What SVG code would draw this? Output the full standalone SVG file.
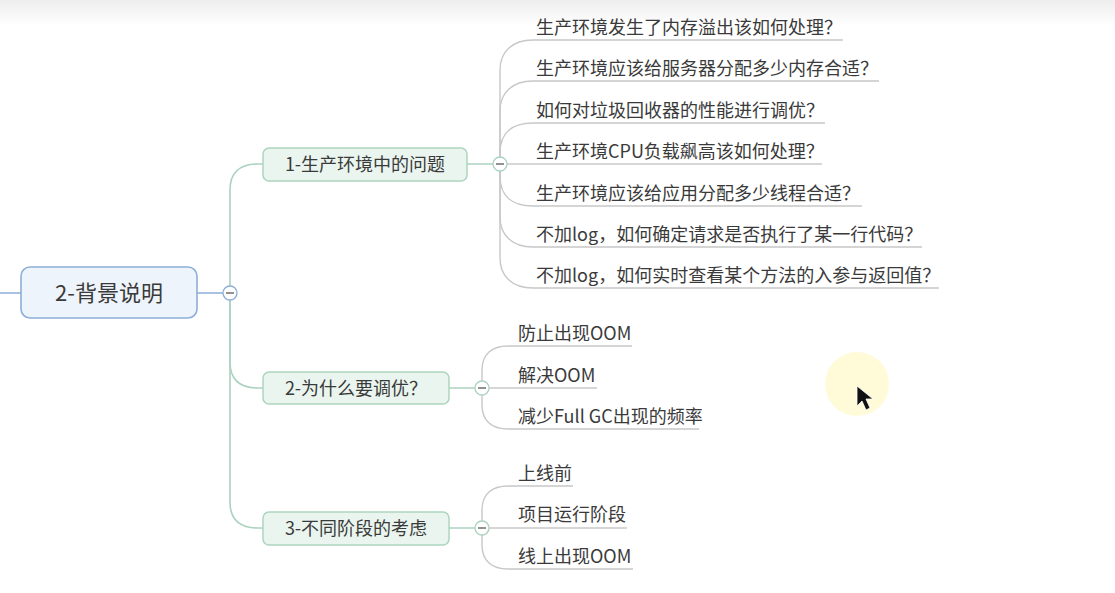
<svg xmlns="http://www.w3.org/2000/svg" width="1115" height="593" viewBox="0 0 1115 593">
<defs>
<linearGradient id="topband" x1="0" y1="0" x2="0" y2="1">
<stop offset="0" stop-color="#eeeeee"/>
<stop offset="1" stop-color="#ffffff"/>
</linearGradient>
</defs>
<style>
text{font-family:"Noto Sans CJK SC","Liberation Sans",sans-serif;fill:#3a3a3a}
.root rect{fill:#eef4fb;stroke:#8eaed8;stroke-width:1.6}
.root text{font-size:22px}
.branch rect{fill:#e9f5ee;stroke:#acd5bf;stroke-width:1.5}
.branch text{font-size:18px}
.leaf text{font-size:18px}
.trunk{fill:none;stroke:#acd2c0;stroke-width:1.6}
.blue{fill:none;stroke:#8eaed8;stroke-width:1.6}
.leafline{fill:none;stroke:#c8c8c8;stroke-width:1.4}
.tog circle{fill:#ffffff;stroke-width:1.3}
.tog line{stroke:#777777;stroke-width:1.6}
</style>
<rect x="0" y="0" width="1115" height="593" fill="#ffffff"/>
<rect x="0" y="0" width="1115" height="26" fill="url(#topband)"/>

<g id="connectors">
<path class="blue" d="M0,293 H21 M197,293 H223"/>
<path class="trunk" d="M230,293 V190 C230,172 240,164 258,164 H263"/>
<path class="trunk" d="M230,293 V362 C230,380 240,388 258,388 H263"/>
<path class="trunk" d="M230,293 V502 C230,520 240,528 258,528 H263"/>
<path class="trunk" d="M467,164 H493 M449,388 H475 M449,528 H475"/>
<path class="leafline" d="M500,164 V70 C500,52 512,40 533,40 H843"/>
<path class="leafline" d="M500,164 V111 C500,93 512,81 533,81 H879"/>
<path class="leafline" d="M500,164 V153 C500,133 512,123 533,123 H825"/>
<path class="leafline" d="M507,164 H822"/>
<path class="leafline" d="M500,164 V176 C500,196 512,206 533,206 H862"/>
<path class="leafline" d="M500,164 V217 C500,235 512,247 533,247 H922"/>
<path class="leafline" d="M500,164 V258 C500,276 512,288 533,288 H939"/>
<path class="leafline" d="M482,388 V370 C482,354 492,346 508,346 H632"/>
<path class="leafline" d="M489,388 H597"/>
<path class="leafline" d="M482,388 V405 C482,421 492,429 508,429 H699"/>
<path class="leafline" d="M482,528 V510 C482,494 492,486 508,486 H573"/>
<path class="leafline" d="M489,528 H627"/>
<path class="leafline" d="M482,528 V545 C482,561 492,569 508,569 H633"/>
</g>

<g id="toggles" class="tog">
<g><circle cx="230" cy="293" r="7" stroke="#8eaed8"/><line x1="226" y1="293" x2="234" y2="293"/></g>
<g><circle cx="500" cy="164" r="7" stroke="#acd2c0"/><line x1="496" y1="164" x2="504" y2="164"/></g>
<g><circle cx="482" cy="388" r="7" stroke="#acd2c0"/><line x1="478" y1="388" x2="486" y2="388"/></g>
<g><circle cx="482" cy="528" r="7" stroke="#acd2c0"/><line x1="478" y1="528" x2="486" y2="528"/></g>
</g>

<g id="root" class="root">
<rect x="21" y="267" width="176" height="51" rx="9"/>
<text x="109" y="301" text-anchor="middle">2-背景说明</text>
</g>

<g id="b1" class="branch">
<rect x="263" y="148" width="204" height="33" rx="6"/>
<text x="365" y="171" text-anchor="middle">1-生产环境中的问题</text>
</g>
<g id="b2" class="branch">
<rect x="263" y="372" width="186" height="32" rx="6"/>
<text x="356" y="395" text-anchor="middle">2-为什么要调优？</text>
</g>
<g id="b3" class="branch">
<rect x="263" y="512" width="186" height="33" rx="6"/>
<text x="356" y="535" text-anchor="middle">3-不同阶段的考虑</text>
</g>

<g id="l1" class="leaf"><text x="536" y="34">生产环境发生了内存溢出该如何处理？</text></g>
<g id="l2" class="leaf"><text x="536" y="75">生产环境应该给服务器分配多少内存合适？</text></g>
<g id="l3" class="leaf"><text x="536" y="117">如何对垃圾回收器的性能进行调优？</text></g>
<g id="l4" class="leaf"><text x="536" y="158">生产环境CPU负载飙高该如何处理？</text></g>
<g id="l5" class="leaf"><text x="536" y="200">生产环境应该给应用分配多少线程合适？</text></g>
<g id="l6" class="leaf"><text x="536" y="241">不加log，如何确定请求是否执行了某一行代码？</text></g>
<g id="l7" class="leaf"><text x="536" y="282">不加log，如何实时查看某个方法的入参与返回值？</text></g>

<g id="l8" class="leaf"><text x="518" y="340">防止出现OOM</text></g>
<g id="l9" class="leaf"><text x="518" y="382">解决OOM</text></g>
<g id="l10" class="leaf"><text x="518" y="423">减少Full GC出现的频率</text></g>

<g id="l11" class="leaf"><text x="518" y="480">上线前</text></g>
<g id="l12" class="leaf"><text x="518" y="521">项目运行阶段</text></g>
<g id="l13" class="leaf"><text x="518" y="563">线上出现OOM</text></g>

<g id="cursor">
<circle cx="857" cy="384" r="32" fill="#fffbd9"/>
<polygon points="857,386 857,406 862,401 866,410 870,408 866,399 873,399" fill="#111111" stroke="#ffffff" stroke-width="0.8"/>
</g>
</svg>
